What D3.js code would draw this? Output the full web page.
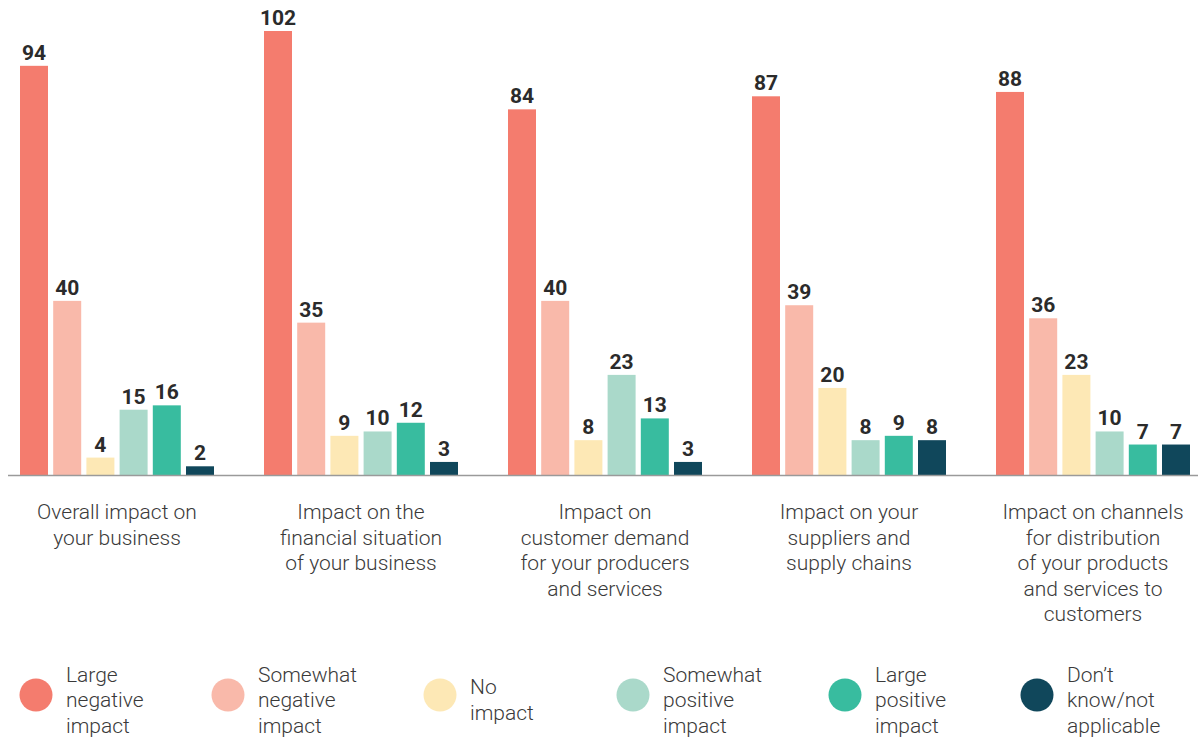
<!DOCTYPE html>
<html>
<head>
<meta charset="utf-8">
<script src="https://cdn.jsdelivr.net/npm/d3@7"></script>
<style>
  html, body { margin: 0; padding: 0; background: #fff; }
  svg { display: block; font-family: Roboto, "Noto Sans", sans-serif; }
</style>
</head>
<body>
<svg id="chart" width="1198" height="737"></svg>
<script>
// Survey question groups (wrapped axis labels)
const categories = [
  "Overall impact on your business",
  "Impact on the financial situation of your business",
  "Impact on customer demand for your producers and services",
  "Impact on your suppliers and supply chains",
  "Impact on channels for distribution of your products and services to customers"
];
const categoryLines = [
  ["Overall impact on", "your business"],
  ["Impact on the", "financial situation", "of your business"],
  ["Impact on", "customer demand", "for your producers", "and services"],
  ["Impact on your", "suppliers and", "supply chains"],
  ["Impact on channels", "for distribution", "of your products", "and services to", "customers"]
];

// Response options
const seriesNames = [
  "Large negative impact",
  "Somewhat negative impact",
  "No impact",
  "Somewhat positive impact",
  "Large positive impact",
  "Don\u2019t know/not applicable"
];
const seriesLines = [
  ["Large", "negative", "impact"],
  ["Somewhat", "negative", "impact"],
  ["No", "impact"],
  ["Somewhat", "positive", "impact"],
  ["Large", "positive", "impact"],
  ["Don\u2019t", "know/not", "applicable"]
];
const seriesColors = ["#f47c6e", "#f9b9aa", "#fde8b5", "#aad9ca", "#38bc9f", "#10475b"];

// Counts per response option, one value per question group
const largeNegative    = [94, 102, 84, 87, 88];
const somewhatNegative = [40, 35, 40, 39, 36];
const noImpact         = [4, 9, 8, 20, 23];
const somewhatPositive = [15, 10, 23, 8, 10];
const largePositive    = [16, 12, 13, 9, 7];
const dontKnow         = [2, 3, 3, 8, 7];

const seriesValues = [largeNegative, somewhatNegative, noImpact, somewhatPositive, largePositive, dontKnow];

const svg = d3.select("#chart");
const baseline = 475;

const x0 = d3.scaleBand()
  .domain(categories)
  .range([-5, 1215])
  .paddingInner(50 / 244)
  .paddingOuter(25 / 244);

const x1 = d3.scaleBand()
  .domain(seriesNames)
  .range([0, x0.bandwidth()])
  .paddingInner(0.1566)
  .paddingOuter(0);

const y = d3.scaleLinear().domain([0, 102]).range([baseline, 31]);

// Bars and value labels
const groups = svg.append("g").selectAll("g")
  .data(categories)
  .join("g")
  .attr("transform", d => `translate(${x0(d)},0)`);

groups.each(function(cat, ci) {
  const g = d3.select(this);
  const rows = seriesNames.map((s, si) => ({ s, si, v: seriesValues[si][ci] }));
  g.selectAll("rect")
    .data(rows)
    .join("rect")
    .attr("x", d => x1(d.s))
    .attr("y", d => y(d.v))
    .attr("width", x1.bandwidth())
    .attr("height", d => baseline - y(d.v))
    .attr("fill", d => seriesColors[d.si]);
  g.selectAll("text")
    .data(rows)
    .join("text")
    .attr("x", d => x1(d.s) + x1.bandwidth() / 2)
    .attr("y", d => y(d.v) - 6)
    .attr("text-anchor", "middle")
    .attr("font-size", 21)
    .attr("font-weight", 700)
    .attr("fill", "#2b2b2b")
    .text(d => d.v);
});

// Baseline axis
svg.append("line")
  .attr("x1", 8).attr("x2", 1198)
  .attr("y1", baseline + 0.5).attr("y2", baseline + 0.5)
  .attr("stroke", "#9a9a9a")
  .attr("stroke-width", 1.5);

// Category labels
svg.append("g").selectAll("text")
  .data(categories)
  .join("text")
  .attr("x", d => x0(d) + x0.bandwidth() / 2)
  .attr("y", 519)
  .attr("text-anchor", "middle")
  .attr("font-size", 21)
  .attr("font-weight", 300)
  .attr("fill", "#3a3a3a")
  .each(function(d, i) {
    d3.select(this).selectAll("tspan")
      .data(categoryLines[i])
      .join("tspan")
      .attr("x", x0(d) + x0.bandwidth() / 2)
      .attr("dy", (t, j) => j === 0 ? 0 : 25.5)
      .text(t => t);
  });

// Legend
const legendX = [36, 228, 440, 633, 845, 1037];
const legendCY = 695;
const legend = svg.append("g").selectAll("g")
  .data(seriesNames)
  .join("g")
  .attr("transform", (d, i) => `translate(${legendX[i]},${legendCY})`);

legend.append("circle")
  .attr("r", 16.5)
  .attr("fill", (d, i) => seriesColors[i]);

legend.append("text")
  .attr("x", 30)
  .attr("font-size", 21)
  .attr("font-weight", 300)
  .attr("fill", "#3a3a3a")
  .each(function(d, i) {
    const lines = seriesLines[i];
    const startY = 12 - (lines.length - 1) * 25.5 / 2;
    d3.select(this).selectAll("tspan")
      .data(lines)
      .join("tspan")
      .attr("x", 30)
      .attr("y", (t, j) => startY + j * 25.5)
      .text(t => t);
  });
</script>
</body>
</html>
